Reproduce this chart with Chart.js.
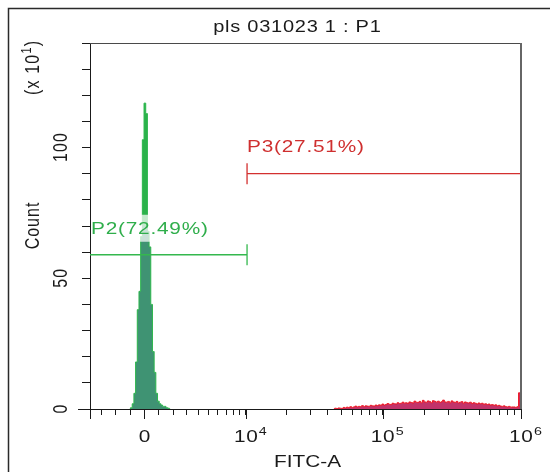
<!DOCTYPE html>
<html>
<head>
<meta charset="utf-8">
<script src="https://cdn.jsdelivr.net/npm/chart.js@4.4.1/dist/chart.umd.min.js"></script>
<style>
	html, body { margin: 0; padding: 0; background: #fff; }
	#histo { display: block; }
</style>
</head>
<body>
<canvas id="histo" width="550" height="472"></canvas>
<script>
/**
 * FITC-A histogram (pls 031023 1 : P1), biexponential x axis
 */

/* ═══ DATA ═══ */

var TITLE   = 'pls 031023 1 : P1';
var X_TITLE = 'FITC-A';
var Y_TITLE = 'Count';

// P2 peak, counts (x10) per display channel, first channel = 24
var p2FirstChannel = 24;
var p2Counts = [ 0.5, 2, 6, 18, 38, 45, 66, 103, 117, 113, 68, 62, 40, 22, 14, 6, 3, 2, 1.5, 1, 1, 0.5, 0.3 ];

// P3 tail, counts (x10) per display channel, first channel = 145
var p3FirstChannel = 145;
var p3Counts = [
	0.3, 0.2, 0.4, 0.3, 0.2, 0.6, 0.4, 0.7, 0.5, 0.9,
	0.6, 0.8, 1.1, 0.8, 1.0, 0.9, 1.3, 0.9, 1.2, 1.1,
	1.0, 1.4, 1.2, 1.1, 1.5, 1.3, 1.6, 1.4, 1.9, 1.5,
	1.7, 2.1, 1.8, 1.7, 2.2, 2.0, 1.9, 2.4, 2.1, 2.2,
	2.6, 2.2, 2.4, 2.1, 2.7, 2.5, 2.3, 3.0, 2.6, 2.5,
	2.9, 2.4, 3.3, 2.7, 2.6, 3.1, 2.8, 2.4, 3.2, 2.9,
	2.6, 3.0, 2.5, 2.8, 3.4, 2.7, 2.6, 2.9, 2.4, 3.1,
	2.7, 2.5, 2.9, 2.3, 2.6, 2.8, 2.2, 2.7, 2.4, 2.3,
	2.6, 2.1, 2.4, 2.2, 1.9, 2.3, 2.0, 2.2, 1.8, 2.0,
	1.7, 1.9, 1.5, 1.7, 1.4, 1.6, 1.2, 1.4, 1.1, 1.0,
	1.2, 0.9, 0.8, 1.0, 0.7, 0.8, 0.8, 0.6, 0.9, 6.2
];

// x axis ticks, in FITC-A units
var xMinorTicks = [ -3000, -2000, -1000,
	1000, 2000, 3000, 4000, 5000, 6000, 7000, 8000, 9000,
	20000, 30000, 40000, 50000, 60000, 70000, 80000, 90000,
	200000, 300000, 400000, 500000, 600000, 700000, 800000, 900000 ];
var xMajorTicks  = [ 0, 1e4, 1e5, 1e6 ];
var xMajorBase   = [ '0', '10', '10', '10' ];
var xMajorExp    = [ '', '4', '5', '6' ];
var xRange       = [ -3800, 1e6 ];

// y axis (x10^1)
var yRange       = [ 0, 140 ];
var yStep        = 10;
var yLabelTicks  = [ 0, 50, 100 ];

// gates
var gateNames    = [ 'P2', 'P3' ];
var gatePercents = [ '72.49%', '27.51%' ];
var gateLevels   = [ 59, 90 ];
var gateRanges   = [ [ -3800, 10200 ], [ 10200, 1e6 ] ];
var gateCapHalf  = 4;

/* ═══ BIEXPONENTIAL DISPLAY TRANSFORM ═══ */

var BX_A = 1890, BX_R = 1.217;
var ZERO_CH = 31.75, CH_PER_DECADE = 81.95;

function decadesFor( v ) {
	if ( v <= 0 ) return v / ( BX_A * Math.LN10 * ( 1 + BX_R ) );
	var lo = 0, hi = 10;
	for ( var i = 0; i < 60; i++ ) {
		var mid = ( lo + hi ) / 2;
		if ( BX_A * ( Math.pow( 10, mid ) - Math.pow( 10, -BX_R * mid ) ) < v ) lo = mid; else hi = mid;
	}
	return ( lo + hi ) / 2;
}

function toChannel( v ) {
	return ZERO_CH + CH_PER_DECADE * decadesFor( v );
}

function histPoints( first, counts ) {
	var pts = [ { x: first - 1, y: 0 } ];
	for ( var i = 0; i < counts.length; i++ ) pts.push( { x: first + i, y: counts[i] } );
	pts.push( { x: first + counts.length, y: 0 } );
	return pts;
}

/* ═══ COLOURS ═══ */

var GREEN_LINE = '#2cb64c';
var GREEN_TOP  = '#2bb24b';
var GREEN_FILL = '#3f9373';
var RED_LINE   = '#f0151f';
var RED_FILL   = '#c2336a';
var GATE_GREEN = '#34b84e';
var GATE_RED   = '#d3302f';
var TEXT_GREEN = '#2fae4b';
var TEXT_RED   = '#cf2f2f';
var INK        = '#1a1a1a';

var FONT = '"Liberation Sans", Arial, sans-serif';
var SX   = 1.3;   // glyphs look horizontally stretched in the reference

/* ═══ TEXT HELPERS ═══ */

// runs: [{ t, size, dy }], drawn one after another along the text direction
function drawRuns( ctx, runs, x, y, opts ) {
	opts = opts || {};
	var ls = opts.ls || 0;
	ctx.save();
	ctx.translate( x, y );
	if ( opts.rotate ) ctx.rotate( opts.rotate );
	ctx.scale( opts.sx || 1, opts.sy || 1 );
	ctx.fillStyle = opts.color || INK;
	ctx.textBaseline = 'alphabetic';
	ctx.textAlign = 'left';
	ctx.letterSpacing = ls + 'px';

	var widths = [], total = 0;
	for ( var i = 0; i < runs.length; i++ ) {
		ctx.font = runs[i].size + 'px ' + FONT;
		var w = ctx.measureText( runs[i].t ).width;
		widths.push( w );
		total += w;
	}
	total -= ls;
	var start = opts.align === 'left' ? 0 : ( opts.align === 'right' ? -total : -total / 2 );
	var cx = start;
	var base = ( opts.capSize || runs[0].size ) * 0.36;   // vertical centring on cap height
	for ( var j = 0; j < runs.length; j++ ) {
		ctx.font = runs[j].size + 'px ' + FONT;
		ctx.fillText( runs[j].t, cx, base + ( runs[j].dy || 0 ) );
		cx += widths[j];
	}
	ctx.restore();
	return total * ( opts.sx || 1 );
}

/* ═══ DECORATION PLUGIN ═══ */

var decorPlugin = {
	id: 'decor',
	beforeDraw: function( chart ) {
		var ctx = chart.ctx;
		ctx.save();
		ctx.fillStyle = '#fff';
		ctx.fillRect( 0, 0, chart.width, chart.height );
		// outer frame (runs off the right and bottom edges)
		ctx.strokeStyle = '#2a2a2a';
		ctx.lineWidth = 1.5;
		ctx.beginPath();
		ctx.moveTo( 8.5, chart.height + 2 );
		ctx.lineTo( 8.5, 8.5 );
		ctx.lineTo( chart.width + 2, 8.5 );
		ctx.stroke();
		ctx.restore();
	},
	afterDatasetsDraw: function( chart ) {
		var ctx = chart.ctx;
		var xs = chart.scales.x, ys = chart.scales.y;
		for ( var i = 0; i < gateNames.length; i++ ) {
			var label = gateNames[i] + '(' + gatePercents[i] + ')';
			var gx = i === 0 ? chart.chartArea.left + 1 : xs.getPixelForValue( toChannel( gateRanges[i][0] ) );
			var gy = ys.getPixelForValue( gateLevels[i] ) - 27;
			ctx.save();
			ctx.font = '16px ' + FONT;
			ctx.letterSpacing = '0.6px';
			var w = ctx.measureText( label ).width * SX;
			ctx.restore();
			ctx.save();
			ctx.fillStyle = 'rgba(255,255,255,0.72)';
			ctx.fillRect( gx, gy - 13, w + 2, 27 );
			ctx.restore();
			drawRuns( ctx, [ { t: label, size: 16 } ], gx, gy, {
				align: 'left', sx: SX, ls: 0.6, color: i === 0 ? TEXT_GREEN : TEXT_RED
			} );
		}
	},
	afterDraw: function( chart ) {
		var ctx = chart.ctx;
		var a = chart.chartArea;
		var xs = chart.scales.x, ys = chart.scales.y;

		ctx.save();
		// plot frame: top + right
		ctx.strokeStyle = '#4a4a4a';
		ctx.lineWidth = 1;
		ctx.beginPath();
		ctx.moveTo( a.left, a.top + 0.5 );
		ctx.lineTo( a.right, a.top + 0.5 );
		ctx.stroke();
		ctx.strokeStyle = '#666';
		ctx.lineWidth = 2;
		ctx.beginPath();
		ctx.moveTo( a.right, a.top );
		ctx.lineTo( a.right, a.bottom );
		ctx.stroke();

		// axis line extensions (crossing at origin corner)
		ctx.strokeStyle = INK;
		ctx.lineWidth = 1;
		ctx.beginPath();
		ctx.moveTo( a.left - 12, Math.round( a.bottom ) + 0.5 );
		ctx.lineTo( a.left, Math.round( a.bottom ) + 0.5 );
		ctx.moveTo( Math.round( a.left ) + 0.5, a.bottom );
		ctx.lineTo( Math.round( a.left ) + 0.5, a.bottom + 10 );
		// long major ticks
		for ( var i = 0; i < xMajorTicks.length; i++ ) {
			var px = Math.round( xs.getPixelForValue( toChannel( xMajorTicks[i] ) ) ) + 0.5;
			ctx.moveTo( px, a.bottom );
			ctx.lineTo( px, a.bottom + 10 );
		}
		ctx.stroke();
		ctx.restore();

		// x tick labels
		for ( var k = 0; k < xMajorTicks.length; k++ ) {
			var tx = xs.getPixelForValue( toChannel( xMajorTicks[k] ) );
			var bw = drawRuns( ctx, [ { t: xMajorBase[k], size: 16 } ], tx, a.bottom + 27, { sx: SX, ls: 0.5 } );
			if ( xMajorExp[k] ) {
				drawRuns( ctx, [ { t: xMajorExp[k], size: 11 } ], tx + bw / 2 + 1, a.bottom + 22, { align: 'left', sx: SX, capSize: 11 } );
			}
		}
		// x title
		drawRuns( ctx, [ { t: X_TITLE, size: 16 } ], ( a.left + a.right ) / 2 + 2, a.bottom + 52, { sx: SX, ls: 0 } );

		// y tick labels (rotated)
		for ( var m = 0; m < yLabelTicks.length; m++ ) {
			var ty = ys.getPixelForValue( yLabelTicks[m] );
			drawRuns( ctx, [ { t: String( yLabelTicks[m] ), size: 16 } ], 60, ty, { rotate: -Math.PI / 2, sy: SX, ls: 1 } );
		}
		// y title + multiplier
		drawRuns( ctx, [ { t: Y_TITLE, size: 16 } ], 31.5, 226, { rotate: -Math.PI / 2, sy: SX, ls: 1 } );
		drawRuns( ctx, [
			{ t: '(x 10', size: 16 },
			{ t: '1', size: 11, dy: -6 },
			{ t: ')', size: 16 }
		], 31.5, 68, { rotate: -Math.PI / 2, sy: SX, ls: 1.2 } );

		// title
		drawRuns( ctx, [ { t: TITLE, size: 16 } ], 297, 26, { sx: SX - 0.05, ls: 0.6 } );
	}
};

/* ═══ CHART ═══ */

function gatePath( i ) {
	var lo = toChannel( gateRanges[i][0] ), hi = toChannel( gateRanges[i][1] );
	var lv = gateLevels[i];
	if ( i === 0 ) {
		return [ { x: lo, y: lv }, { x: hi, y: lv }, { x: hi, y: lv - gateCapHalf }, { x: hi, y: lv + gateCapHalf } ];
	}
	return [ { x: lo, y: lv - gateCapHalf }, { x: lo, y: lv + gateCapHalf }, { x: lo, y: lv }, { x: hi, y: lv } ];
}

function greenFill( context ) {
	var chart = context.chart;
	var area = chart.chartArea;
	if ( ! area ) return GREEN_FILL;
	var split = chart.scales.y.getPixelForValue( 70 );
	var f = Math.min( 1, Math.max( 0, ( split - area.top ) / ( area.bottom - area.top ) ) );
	var g = chart.ctx.createLinearGradient( 0, area.top, 0, area.bottom );
	g.addColorStop( 0, GREEN_TOP );
	g.addColorStop( f, GREEN_TOP );
	g.addColorStop( f, GREEN_FILL );
	g.addColorStop( 1, GREEN_FILL );
	return g;
}

function histDataset( label, pts, line, fill, order ) {
	return {
		label: label,
		data: pts,
		stepped: 'middle',
		fill: 'origin',
		borderColor: line,
		backgroundColor: fill,
		borderWidth: 1,
		pointRadius: 0,
		order: order
	};
}

function gateDataset( i, color ) {
	return {
		label: gateNames[i],
		data: gatePath( i ),
		borderColor: color,
		borderWidth: 1.3,
		pointRadius: 0,
		fill: false,
		tension: 0,
		order: 0
	};
}

new Chart( document.getElementById( 'histo' ).getContext( '2d' ), {
	type: 'line',
	data: {
		datasets: [
			gateDataset( 0, GATE_GREEN ),
			gateDataset( 1, GATE_RED ),
			histDataset( 'P2 events', histPoints( p2FirstChannel, p2Counts ), GREEN_LINE, greenFill, 1 ),
			histDataset( 'P3 events', histPoints( p3FirstChannel, p3Counts ), RED_LINE, RED_FILL, 2 )
		]
	},
	options: {
		responsive: false,
		animation: false,
		devicePixelRatio: 1,
		layout: { padding: { top: 43, right: 29, left: 0, bottom: 0 } },
		plugins: {
			legend: { display: false },
			tooltip: { enabled: false },
			title: { display: false }
		},
		scales: {
			x: {
				type: 'linear',
				min: toChannel( xRange[0] ),
				max: toChannel( xRange[1] ),
				afterBuildTicks: function( scale ) {
					var all = xMinorTicks.concat( xMajorTicks );
					scale.ticks = all.map( function( v ) { return { value: toChannel( v ) }; } );
				},
				afterFit: function( scale ) { scale.height = 63; },
				ticks: { display: false },
				grid: {
					drawOnChartArea: false,
					drawTicks: true,
					tickLength: 6,
					color: INK,
					tickColor: INK
				},
				border: { display: true, color: INK, width: 1 }
			},
			y: {
				type: 'linear',
				min: yRange[0],
				max: yRange[1],
				ticks: { display: false, stepSize: yStep },
				afterFit: function( scale ) { scale.width = 90; },
				grid: {
					drawOnChartArea: false,
					drawTicks: true,
					tickLength: 8,
					color: INK,
					tickColor: INK
				},
				border: { display: true, color: INK, width: 1 }
			}
		}
	},
	plugins: [ decorPlugin ]
});
</script>
</body>
</html>
